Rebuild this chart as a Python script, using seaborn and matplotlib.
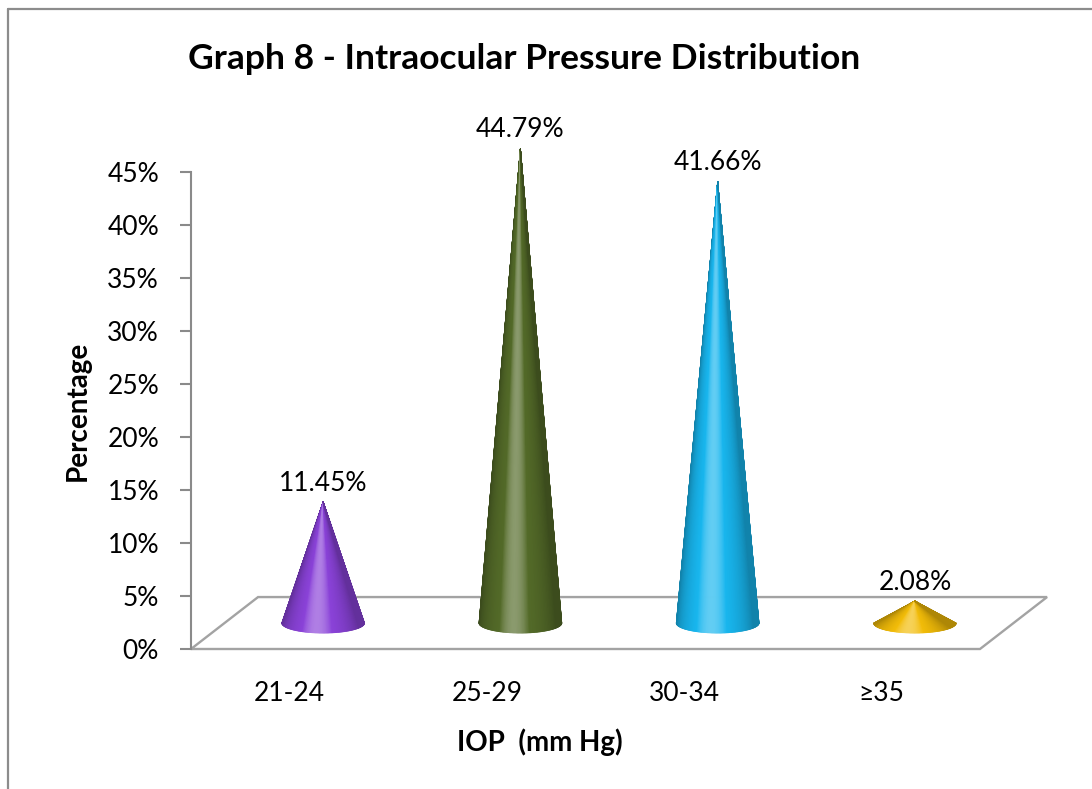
import numpy as np
import matplotlib
matplotlib.use("Agg")
import matplotlib.pyplot as plt
from matplotlib.patches import Polygon
from matplotlib.lines import Line2D
from matplotlib.colors import to_rgb
import seaborn as sns

# ---- data ----
categories = ["21-24", "25-29", "30-34", "≥35"]
percentages = [11.45, 44.79, 41.66, 2.08]
value_labels = ["11.45%", "44.79%", "41.66%", "2.08%"]
cone_colors = ["#8A42D8", "#536A28", "#18B6EE", "#F2BC08"]
y_ticks = [0, 5, 10, 15, 20, 25, 30, 35, 40, 45]

sns.set_theme(style="white")
plt.rcParams["font.family"] = ["Lato", "DejaVu Sans"]
plt.rcParams["text.color"] = "black"

# 3-D look: floor depth in data units (x in category units, y in percent)
DEPTH_X = 0.34
DEPTH_Y = 4.9
CONE_HALF_W = 0.21
CONE_BASE_B = 0.95
LIGHT = np.array([-0.15, 1.0]) / np.hypot(0.15, 1.0)

fig = plt.figure(figsize=(10.92, 7.89), dpi=100)
ax = fig.add_axes([191 / 1092, 140 / 789, 869 / 1092, 530 / 789])
ax.set_xlim(-0.5, -0.5 + 869 / 197.25)
ax.set_ylim(0, 50)

grey = "#a3a3a3"

# floor of the 3-D plot
n_cat = len(categories)
floor = Polygon([(-0.5, 0), (n_cat - 0.5, 0),
                 (n_cat - 0.5 + DEPTH_X, DEPTH_Y), (-0.5 + DEPTH_X, DEPTH_Y)],
                closed=True, facecolor="white", edgecolor=grey, linewidth=1.7,
                zorder=1, clip_on=False)
ax.add_patch(floor)


def shade(rgb, s):
    if s >= 0:
        return rgb + (1 - rgb) * 0.32 * s
    return rgb * (1 + 0.28 * s)


def draw_cone(cx, base_y, height, color):
    n = 160
    theta = np.linspace(np.pi, 2 * np.pi, n + 1)
    bx = cx + CONE_HALF_W * np.cos(theta)
    by = base_y + CONE_BASE_B * np.sin(theta)
    apex = (cx, base_y + height)
    rgb = np.array(to_rgb(color))
    for i in range(n):
        tm = 0.5 * (theta[i] + theta[i + 1])
        normal = np.array([np.cos(tm), -np.sin(tm)])
        d = normal @ LIGHT
        if d >= 0.93:
            s = (d - 0.93) / 0.07
        else:
            s = (d - 0.93) / 0.93 * 1.6
        s = float(np.clip(s, -1, 1))
        c = np.clip(shade(rgb, s), 0, 1)
        ax.add_patch(Polygon([apex, (bx[i], by[i]), (bx[i + 1], by[i + 1])],
                             closed=True, facecolor=c, edgecolor=c,
                             linewidth=0.5, zorder=3, clip_on=False))


for i, (val, lab, col) in enumerate(zip(percentages, value_labels, cone_colors)):
    cx = i + DEPTH_X / 2
    base_y = DEPTH_Y / 2
    draw_cone(cx, base_y, val, col)
    ax.text(cx, base_y + val + 1.75, lab, ha="center", va="center",
            fontsize=19, color="black", zorder=4)

# axes styling
sns.despine(ax=ax, top=True, right=True, bottom=True, left=False)
ax.spines["left"].set_bounds(0, 45)
ax.spines["left"].set_color("#8a8a8a")
ax.spines["left"].set_linewidth(1.5)
ax.set_yticks(y_ticks)
ax.set_yticklabels([f"{t}%" for t in y_ticks])
ax.tick_params(axis="y", left=True, length=8, width=1.5, color="#8a8a8a",
               pad=15, labelsize=19, labelcolor="black")
ax.set_xticks(range(n_cat))
ax.set_xticklabels(categories)
ax.tick_params(axis="x", bottom=False, pad=17, labelsize=19, labelcolor="black")
ax.grid(False)
ax.set_facecolor("none")

fig.text(524 / 1092, 1 - 69 / 789, "Graph 8 - Intraocular Pressure Distribution",
         ha="center", va="baseline", fontsize=25.5, fontweight="bold", color="black")
fig.text(78 / 1092, 1 - 411 / 789, "Percentage", rotation=90,
         ha="center", va="center", fontsize=20, fontweight="bold", color="black")
fig.text(540 / 1092, 1 - 742 / 789, "IOP  (mm Hg)",
         ha="center", va="center", fontsize=20, fontweight="bold", color="black")

# chart frame
fig.add_artist(Line2D([8 / 1092, 8 / 1092], [0, 1 - 9 / 789],
                      transform=fig.transFigure, color="#8c8c8c", linewidth=1.6))
fig.add_artist(Line2D([8 / 1092, 1], [1 - 9 / 789, 1 - 9 / 789],
                      transform=fig.transFigure, color="#8c8c8c", linewidth=1.6))

fig.savefig("out.png", dpi=100)
